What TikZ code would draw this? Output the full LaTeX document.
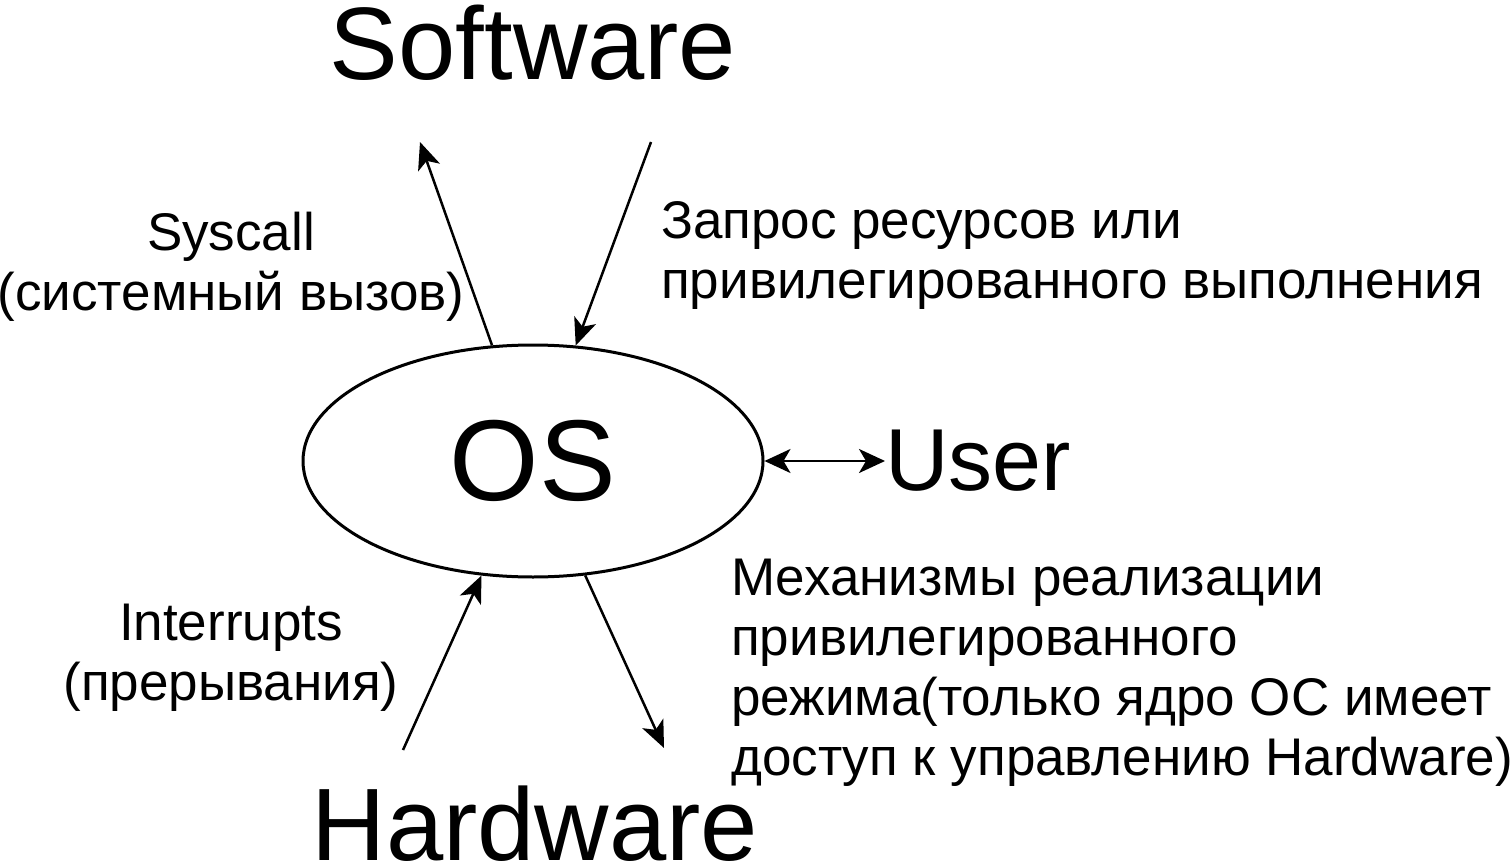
\documentclass[tikz,border=0pt]{standalone}
\usepackage{fontspec}
\setmainfont{Liberation Sans}
\usetikzlibrary{arrows.meta,shapes.geometric}
\begin{document}
\begin{tikzpicture}[x=1pt,y=-1pt,
  big/.style={font=\fontsize{103}{120}\selectfont,inner sep=0pt},
  small/.style={font=\fontsize{53}{60}\selectfont,inner sep=0pt},
  arr/.style={line width=2.5pt,-{Stealth[length=27pt,width=23pt,inset=7pt]}},
  darr/.style={line width=2.5pt,{Stealth[length=26pt,width=24pt,inset=7pt]}-{Stealth[length=26pt,width=24pt,inset=7pt]}}]
\useasboundingbox (0,0) rectangle (1512,864);
\node[ellipse,draw,line width=3pt,minimum width=460pt,minimum height=232pt,inner sep=0pt,
      font=\fontsize{115}{130}\selectfont] (os) at (533,461) {OS};
\node[big,anchor=base] (sw) at (533,80) {Software};
\node[big,anchor=base] (hw) at (535,860) {Hardware};
\node[font=\fontsize{88}{100}\selectfont,inner sep=0pt,anchor=west] (user) at (885,461) {User};
\node[small,align=center,anchor=base] (sys) at (231,310) {Syscall\\(системный вызов)};
\node[small,align=left,anchor=base west] (req) at (661,298) {Запрос ресурсов или\\привилегированного выполнения};
\node[small,align=center,anchor=base] (intr) at (231,700) {Interrupts\\(прерывания)};
\node[small,align=left,anchor=base west] (mech) at (731,775) {Механизмы реализации\\привилегированного\\режима(только ядро ОС имеет\\доступ к управлению Hardware)};
\coordinate (swend) at (420,142);
\coordinate (reqs) at (651,142);
\coordinate (ints) at (403,750);
\coordinate (mechend) at (664,748);
\draw[arr] (os) -- (swend);
\draw[arr] (reqs) -- (os);
\draw[arr] (ints) -- (os);
\draw[arr] (os) -- (mechend);
\draw[darr] (os.east) -- (user.west);
\end{tikzpicture}
\end{document}
